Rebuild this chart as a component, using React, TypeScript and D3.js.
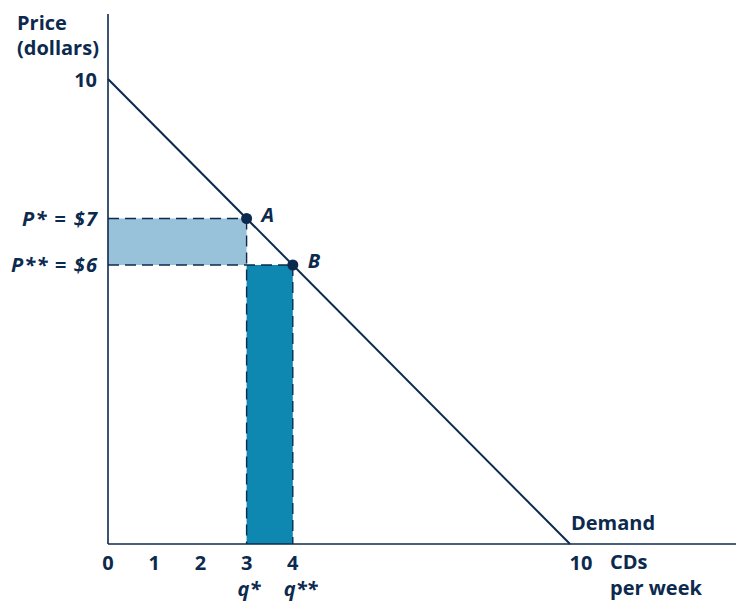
import React from "react";
import * as d3 from "d3";

const xTicks = [0, 1, 2, 3, 4, 10];
const yTickValue = [10];
const priceLabels = [
  { p: 7, label: "P* = $7", labelWidth: 75, point: "A", q: 3, qLabel: "q*" },
  { p: 6, label: "P** = $6", labelWidth: 86, point: "B", q: 4, qLabel: "q**" },
];
const demandIntercepts = { maxPrice: 10, maxQty: 10 };

const W = 736;
const H = 602;
const NAVY = "#0c2a4e";
const LIGHT = "#97c2d9";
const DARK = "#0e88b1";
const FONT = "'Open Sans', 'Noto Sans', sans-serif";
const FS = 20;

export default function App() {
  const x = d3.scaleLinear().domain([0, 10]).range([108, 570]);
  const y = d3.scaleLinear().domain([0, 10]).range([544, 79]);
  const demand = (q: number) => demandIntercepts.maxPrice - (demandIntercepts.maxPrice / demandIntercepts.maxQty) * q;
  const line = d3.line<[number, number]>().x((d) => x(d[0])).y((d) => y(d[1]));
  const demandPts: [number, number][] = [
    [0, demand(0)],
    [demandIntercepts.maxQty, demand(demandIntercepts.maxQty)],
  ];
  const A = priceLabels[0];
  const B = priceLabels[1];
  const dash = "11 6";
  return (
    <svg width={W} height={H} style={{ position: "absolute", left: 0, top: 0 }} fontFamily={FONT} fontWeight={700}>
      <rect width={W} height={H} fill="#fff" />
      <rect x={x(0)} y={y(A.p)} width={x(A.q) - x(0)} height={y(B.p) - y(A.p)} fill={LIGHT} />
      <rect x={x(A.q)} y={y(B.p)} width={x(B.q) - x(A.q)} height={y(0) - y(B.p)} fill={DARK} />
      {priceLabels.map((d) => (
        <g key={d.label} stroke={NAVY} strokeWidth={1.4} strokeDasharray={dash} fill="none">
          <line x1={x(0)} x2={x(d.q)} y1={y(d.p)} y2={y(d.p)} />
          <line x1={x(d.q)} x2={x(d.q)} y1={y(d.p)} y2={y(0)} />
        </g>
      ))}
      <line x1={x(0)} x2={x(0)} y1={14} y2={y(0)} stroke={NAVY} strokeWidth={1.6} />
      <line x1={x(0)} x2={W} y1={y(0)} y2={y(0)} stroke={NAVY} strokeWidth={1.6} />
      <path d={line(demandPts) || ""} stroke={NAVY} strokeWidth={2} fill="none" />
      {priceLabels.map((d) => (
        <g key={d.point}>
          <circle cx={x(d.q)} cy={y(d.p)} r={5.5} fill={NAVY} />
          <text x={x(d.q) + 15} y={y(d.p) + 3} fontSize={FS} fontStyle="italic" fill={NAVY}>
            {d.point}
          </text>
          <text
            x={97 - d.labelWidth}
            y={y(d.p) + 7}
            textLength={d.labelWidth}
            lengthAdjust="spacing"
            fontSize={FS}
            fontStyle="italic"
            fill={NAVY}
          >
            {d.label}
          </text>
          <text x={x(d.q) - 9} y={596} fontSize={FS} fontStyle="italic" fill={NAVY}>
            {d.qLabel}
          </text>
        </g>
      ))}
      <text x={17} y={30} fontSize={FS} fill={NAVY}>Price</text>
      <text x={17} y={55} fontSize={FS} fill={NAVY}>(dollars)</text>
      {yTickValue.map((v) => (
        <text key={v} x={97} y={y(v) + 8} textAnchor="end" fontSize={FS} fill={NAVY}>
          {v}
        </text>
      ))}
      {xTicks.map((v) => (
        <text key={v} x={x(v) + (v === 10 ? 11 : 0)} y={570} textAnchor="middle" fontSize={FS} fill={NAVY}>
          {v}
        </text>
      ))}
      <text x={610} y={569} fontSize={FS} fill={NAVY}>CDs</text>
      <text x={610} y={595} fontSize={FS} fill={NAVY}>per week</text>
      <text x={571} y={530} fontSize={FS} fill={NAVY}>Demand</text>
    </svg>
  );
}
